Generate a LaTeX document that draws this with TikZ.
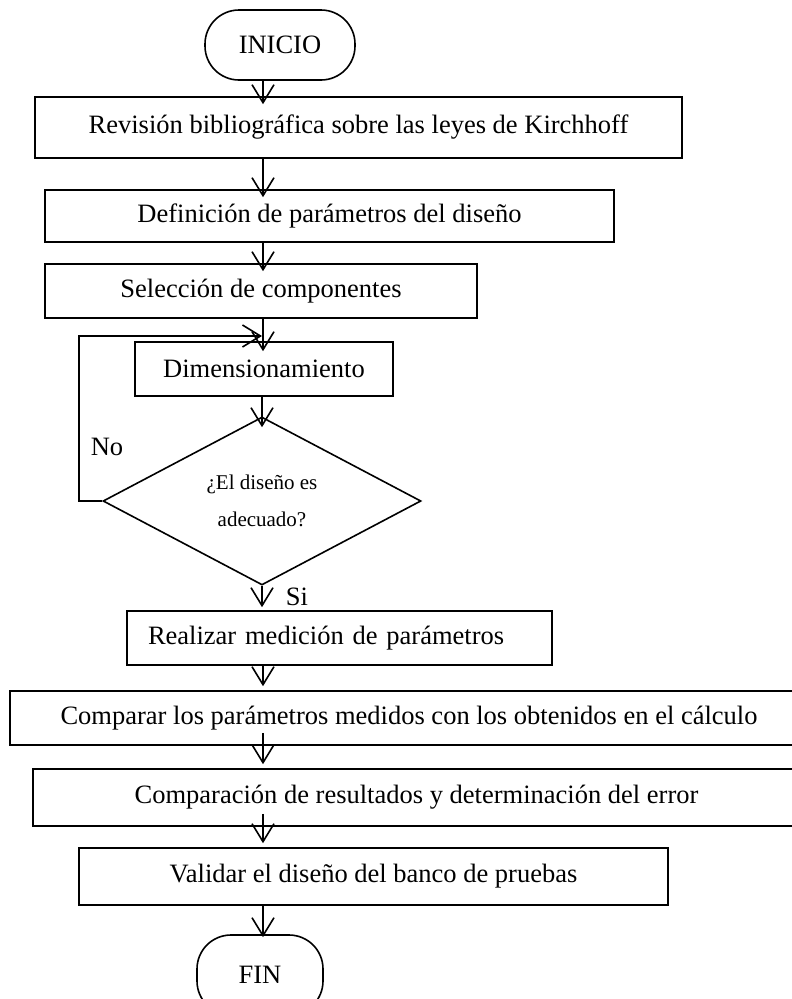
\documentclass[tikz,border=0pt]{standalone}
\usepackage{fontspec}
\setmainfont{Liberation Serif}
\usetikzlibrary{shapes.geometric,arrows.meta}

\begin{document}
\begin{tikzpicture}[x=1pt,y=-1pt,
    caja/.style={draw, line width=1.6pt, inner sep=0pt, font=\fontsize{26.5}{30}\selectfont},
    terminal/.style={caja, rounded corners=34pt},
    rombo/.style={draw, diamond, line width=1.6pt, inner sep=0pt, align=center, font=\fontsize{21}{37}\selectfont},
    flecha/.style={line width=1.6pt, -{Straight Barb[length=18pt,width=22pt]}},
    etiqueta/.style={font=\fontsize{26.5}{30}\selectfont}]
    \useasboundingbox (0,0) rectangle (792,999);

    % draw nodes
    \node[terminal, minimum width=150pt, minimum height=70pt] (inicio) at (280,45) {INICIO};
    \node[caja, minimum width=647pt, minimum height=61pt] (revision) at (358.5,127.5) {Revisión bibliográfica sobre las leyes de Kirchhoff};
    \node[caja, minimum width=569pt, minimum height=52pt] (definicion) at (329.5,216) {Definición de parámetros del diseño};
    \node[caja, minimum width=432pt, minimum height=54pt] (seleccion) at (261,291) {Selección de componentes};
    \node[caja, minimum width=258pt, minimum height=54pt] (dimension) at (264,369) {Dimensionamiento};
    \node[rombo, minimum width=318pt, minimum height=168pt] (decision) at (262,501) {¿El diseño es\\adecuado?};
    \node[caja, text width=383pt, inner xsep=21pt, align=left, minimum height=54pt] (realizar) at (339.5,638) {Realizar medición de parámetros};
    \node[caja, minimum width=798pt, minimum height=54pt] (comparar) at (409,718) {Comparar los parámetros medidos con los obtenidos en el cálculo};
    \node[caja, minimum width=767pt, minimum height=57pt] (comparacion) at (416.5,797.5) {Comparación de resultados y determinación del error};
    \node[caja, minimum width=589pt, minimum height=57pt] (validar) at (373.5,876.5) {Validar el diseño del banco de pruebas};
    \node[terminal, minimum width=126pt, minimum height=80pt] (fin) at (260,975) {FIN};

    % draw labels
    \node[etiqueta] (no) at (107,447) {No};
    \node[etiqueta] (si) at (297,597) {Si};

    % draw arrows
    \coordinate (eje) at (263,0);
    \foreach \desde/\hasta/\dentro in {inicio/revision/8, revision/definicion/8, definicion/seleccion/8, seleccion/dimension/10, realizar/comparar/-4, validar/fin/3}
    \draw[flecha, shorten >={-\dentro pt}] (\desde.south -| eje) -- (\hasta.north -| eje);
    \draw[flecha, shorten >=-11pt] (dimension.south -| decision.north) -- (decision.north);
    \draw[flecha, shorten >=3pt] (decision.south) -- (realizar.north -| decision.south);
    \foreach \desde/\hasta in {comparar/comparacion, comparacion/validar}
    \draw[flecha, shorten <=-13pt, shorten >=4pt] (\desde.south -| eje) -- (\hasta.north -| eje);

    % draw loop back
    \coordinate (lazo) at (79,0);
    \coordinate (retorno) at (262,336);
    \draw[flecha] (decision.west) -- (decision.west -| lazo) |- (retorno);
\end{tikzpicture}
\end{document}
